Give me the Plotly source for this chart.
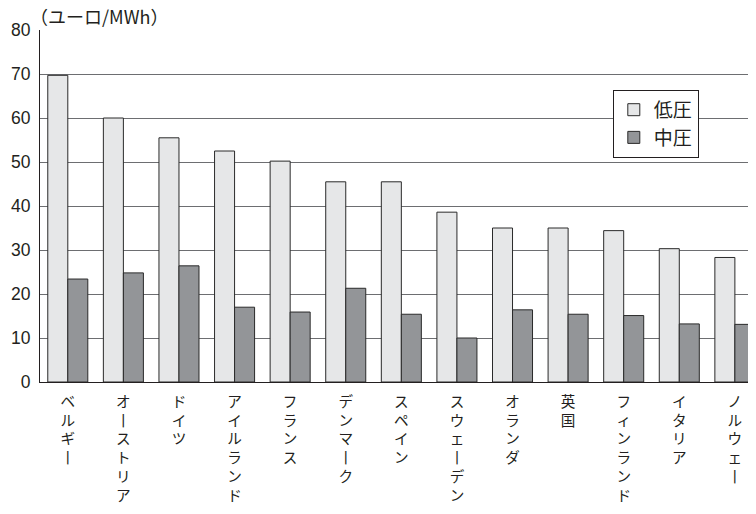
import plotly.graph_objects as go

categories = ["ベルギー", "オーストリア", "ドイツ", "アイルランド", "フランス", "デンマーク",
              "スペイン", "スウェーデン", "オランダ", "英国", "フィンランド", "イタリア", "ノルウェー"]
low_voltage = [69.7, 60.0, 55.5, 52.5, 50.2, 45.5, 45.5, 38.6, 35.0, 35.0, 34.4, 30.3, 28.3]
mid_voltage = [23.4, 24.8, 26.4, 17.0, 15.9, 21.3, 15.4, 10.0, 16.4, 15.4, 15.1, 13.2, 13.1]
series_names = ["低圧", "中圧"]
y_ticks = [0, 10, 20, 30, 40, 50, 60, 70, 80]
unit_label = "（ユーロ/MWh）"


def vertical(label):
    # stack characters for vertical Japanese writing; long vowel mark drawn upright
    return "<br>".join("丨" if ch == "ー" else ch for ch in label)


ticktext = [vertical(c) for c in categories]
FONT = "Liberation Sans, Arial, Noto Sans CJK JP, sans-serif"
JP = "Noto Sans CJK JP, sans-serif"
OUTLINE = dict(color="#2a2a2a", width=1)

fig = go.Figure()
fig.add_trace(go.Bar(x=categories, y=low_voltage, name=series_names[0],
                     marker=dict(color="#e6e7e8", line=OUTLINE)))
fig.add_trace(go.Bar(x=categories, y=mid_voltage, name=series_names[1],
                     marker=dict(color="#939598", line=OUTLINE)))

fig.update_layout(
    width=748, height=506,
    margin=dict(l=32, r=0, t=22, b=132, autoexpand=False),
    paper_bgcolor="white", plot_bgcolor="white",
    barmode="group", bargap=0.28, bargroupgap=0,
    font=dict(family=FONT, size=16, color="#231f20"),
    showlegend=True,
    legend=dict(x=0.80, y=0.83, xanchor="left", yanchor="top",
                bgcolor="white", bordercolor="#231f20", borderwidth=1,
                font=dict(size=19, family=JP),
                itemwidth=30, tracegroupgap=0),
    xaxis=dict(type="category", range=[-0.5, 12.38],
               tickmode="array", tickvals=categories, ticktext=ticktext,
               tickangle=0, ticks="", showgrid=False, automargin=False,
               showline=True, linecolor="#231f20", linewidth=1,
               ticklabelstandoff=6,
               tickfont=dict(size=14.6, family=JP, color="#231f20")),
    yaxis=dict(range=[0, 80], tickvals=y_ticks, ticks="", automargin=False,
               showgrid=True, gridcolor="#6d6e71", gridwidth=1.2,
               showline=True, linecolor="#231f20", linewidth=1,
               zeroline=False, tickfont=dict(size=17.5), ticklabelstandoff=5),
    annotations=[dict(text=unit_label, xref="paper", yref="paper",
                      x=0, y=1.0, xanchor="left", yanchor="bottom",
                      xshift=-12, yshift=-1, showarrow=False,
                      font=dict(size=18, family=JP))],
)

fig.write_html("out.html")
